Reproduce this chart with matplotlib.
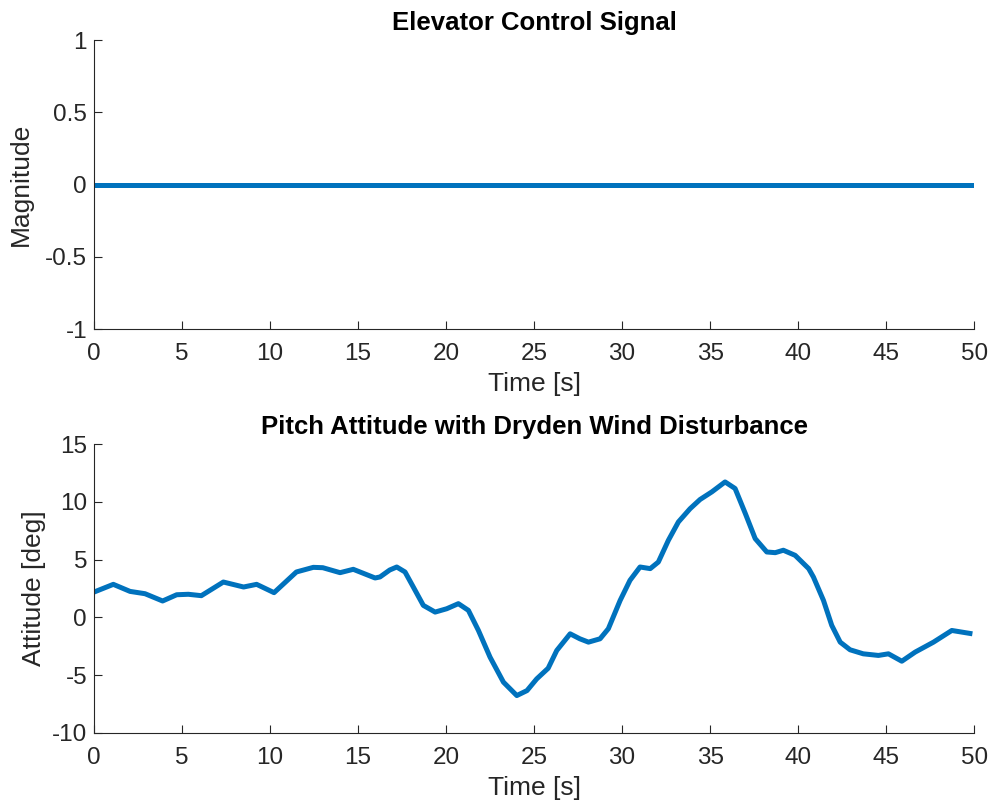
import numpy as np
import matplotlib.pyplot as plt

plt.rcParams['font.family'] = ['Liberation Sans', 'DejaVu Sans']
plt.rcParams['axes.unicode_minus'] = False

# elevator command (zero for the whole run)
t_cmd = [0, 50]
elev_cmd = [0, 0]

# pitch attitude response, deg
t_pitch = [0, 1.1, 2.05, 2.9, 3.9, 4.7, 5.36, 6.1, 7.35, 8.5, 9.24, 10.23,
           11.5, 12.46, 13.0, 13.98, 14.73, 15.97, 16.25, 16.8, 17.2, 17.67,
           18.14, 18.71, 19.38, 20.04, 20.7, 21.27, 21.84, 22.5, 23.26, 24.02,
           24.6, 25.15, 25.8, 26.29, 27.05, 27.6, 28.09, 28.75, 29.22, 29.89,
           30.45, 31.02, 31.6, 32.06, 32.63, 33.2, 33.86, 34.43, 35.1, 35.85,
           36.42, 37.0, 37.56, 38.22, 38.7, 39.16, 39.83, 40.6, 40.87, 41.44,
           41.91, 42.39, 42.95, 43.7, 44.56, 45.13, 45.89, 46.65, 47.69, 48.73,
           49.9]
pitch = [2.19, 2.86, 2.25, 2.05, 1.42, 1.96, 2.0, 1.88, 3.06, 2.63, 2.86, 2.14,
         3.93, 4.33, 4.3, 3.87, 4.16, 3.41, 3.5, 4.1, 4.36, 3.93,
         2.63, 1.04, 0.46, 0.75, 1.19, 0.61, -1.13, -3.44, -5.6, -6.76,
         -6.33, -5.32, -4.4, -2.86, -1.42, -1.85, -2.14, -1.85, -0.98, 1.47,
         3.21, 4.36, 4.22, 4.79, 6.67, 8.26, 9.4, 10.2, 10.86, 11.72,
         11.15, 8.99, 6.82, 5.66, 5.6, 5.81, 5.37, 4.22, 3.49, 1.47,
         -0.69, -2.14, -2.8, -3.15, -3.29, -3.15, -3.79, -3.0, -2.14, -1.13,
         -1.42]

x_ticks = np.arange(0, 51, 5)
y1_ticks = [-1, -0.5, 0, 0.5, 1]
y1_labels = ['-1', '-0.5', '0', '0.5', '1']
y2_ticks = [-10, -5, 0, 5, 10, 15]

blue = '#0072BD'
axc = '#262626'

fig = plt.figure(figsize=(9.89, 8.07), dpi=100)
ax1 = fig.add_axes([0.095, 0.592, 0.89, 0.3584])
ax2 = fig.add_axes([0.095, 0.0917, 0.89, 0.3581])


def style(ax):
    for s in ['top', 'right']:
        ax.spines[s].set_visible(False)
    for s in ['left', 'bottom']:
        ax.spines[s].set_color(axc)
        ax.spines[s].set_linewidth(0.8)
    ax.tick_params(direction='in', length=6, width=0.8, colors=axc,
                   labelsize=17.5, pad=5)
    ax.tick_params(axis='x', pad=10)
    ax.set_xlim(0, 50)
    ax.set_xticks(x_ticks)
    ax.set_xlabel('Time [s]', fontsize=19, color=axc, labelpad=5)


ax1.plot(t_cmd, elev_cmd, color=blue, lw=3.6, solid_capstyle='butt')
style(ax1)
ax1.set_ylim(-1, 1)
ax1.set_yticks(y1_ticks)
ax1.set_yticklabels(y1_labels)
ax1.set_ylabel('Magnitude', fontsize=19, color=axc, labelpad=9)
ax1.set_title('Elevator Control Signal', fontsize=18.5, fontweight='bold', pad=7)

ax2.plot(t_pitch, pitch, color=blue, lw=3.6, solid_joinstyle='round',
         solid_capstyle='butt')
style(ax2)
ax2.set_ylim(-10, 15)
ax2.set_yticks(y2_ticks)
ax2.set_ylabel('Attitude [deg]', fontsize=19, color=axc, labelpad=4)
ax2.set_title('Pitch Attitude with Dryden Wind Disturbance', fontsize=18.5,
              fontweight='bold', pad=7)

fig.savefig('out.png', dpi=100)
